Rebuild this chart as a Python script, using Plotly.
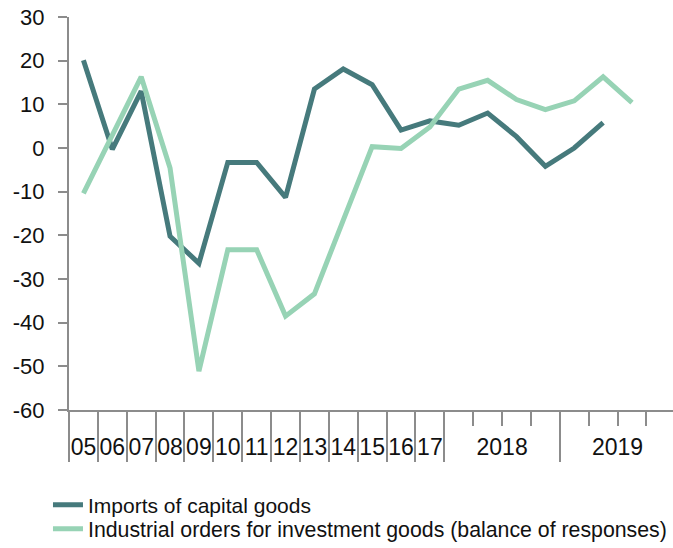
import plotly.graph_objects as go

# ---- data ----
categories = ["05", "06", "07", "08", "09", "10", "11", "12", "13", "14", "15", "16", "17",
              "2018Q1", "2018Q2", "2018Q3", "2018Q4",
              "2019Q1", "2019Q2", "2019Q3", "2019Q4"]
imports_capital_goods = [20.1, -0.3, 13.0, -20.2, -26.4, -3.3, -3.3, -11.3, 13.5, 18.1,
                         14.5, 4.1, 6.2, 5.2, 8.0, 2.6, -4.2, 0.0, 5.8]
industrial_orders = [-10.4, 3.0, 16.3, -4.6, -51.1, -23.3, -23.3, -38.5, -33.4, -16.5,
                     0.3, -0.1, 4.8, 13.5, 15.5, 11.1, 8.8, 10.8, 16.3, 10.4]
label_positions = [0, 1, 2, 3, 4, 5, 6, 7, 8, 9, 10, 11, 12, 14.5, 18.5]
label_texts = ["05", "06", "07", "08", "09", "10", "11", "12", "13", "14", "15", "16", "17",
               "2018", "2019"]
all_boundaries = [k - 0.5 for k in range(0, 22)]
group_boundaries = [k - 0.5 for k in list(range(0, 14)) + [17, 21]]
y_ticks = [30, 20, 10, 0, -10, -20, -30, -40, -50, -60]
y_tick_labels = ["30", "20", "10", "0", "-10", "-20", "-30", "-40", "-50", "-60"]

FONT = "Liberation Sans, Arial, sans-serif"
DARK = "#467A7C"
LIGHT = "#97D3B5"
AXIS = "#8C8C8C"
TXT = "#111111"

x_idx = list(range(len(categories)))

fig = go.Figure()
fig.add_trace(go.Scatter(
    x=x_idx[:len(imports_capital_goods)], y=imports_capital_goods,
    mode="lines", name="Imports of capital goods", legend="legend",
    line=dict(color=DARK, width=5)))
fig.add_trace(go.Scatter(
    x=x_idx[:len(industrial_orders)], y=industrial_orders,
    mode="lines", name="Industrial orders for investment goods (balance of responses)",
    legend="legend2",
    line=dict(color=LIGHT, width=5)))
# empty helper traces so the tick-only overlay axes get drawn
for ax in ("x2", "x3"):
    fig.add_trace(go.Scatter(x=[None], y=[None], xaxis=ax, yaxis="y",
                             showlegend=False, hoverinfo="skip", mode="lines"))

XR = [-0.5, 20.42]
LEG_X = -0.0348
fig.update_layout(
    width=673, height=548,
    margin=dict(l=69, r=0, t=17, b=138, autoexpand=False),
    paper_bgcolor="white", plot_bgcolor="white",
    font=dict(family=FONT, size=21, color=TXT),
    showlegend=True,
    legend=dict(
        x=LEG_X, xanchor="left", y=-0.2417, yanchor="middle",
        font=dict(family=FONT, size=21, color=TXT), bgcolor="rgba(0,0,0,0)",
    ),
    legend2=dict(
        x=LEG_X, xanchor="left", y=-0.3028, yanchor="middle",
        font=dict(family=FONT, size=21.3, color=TXT), bgcolor="rgba(0,0,0,0)",
    ),
    xaxis=dict(
        range=XR, showgrid=False, zeroline=False,
        showline=True, linecolor=AXIS, linewidth=2,
        tickmode="array", tickvals=label_positions, ticktext=label_texts,
        ticks="", ticklabelstandoff=15, ticklabeloverflow="allow",
        tickfont=dict(family=FONT, size=23, color=TXT),
    ),
    xaxis2=dict(
        range=XR, overlaying="x", anchor="y", side="bottom",
        showgrid=False, zeroline=False, showline=False,
        tickmode="array", tickvals=all_boundaries, showticklabels=False,
        ticks="outside", ticklen=15, tickwidth=2, tickcolor=AXIS,
    ),
    xaxis3=dict(
        range=XR, overlaying="x", anchor="y", side="bottom",
        showgrid=False, zeroline=False, showline=False,
        tickmode="array", tickvals=group_boundaries, showticklabels=False,
        ticks="outside", ticklen=51, tickwidth=2, tickcolor=AXIS,
    ),
    yaxis=dict(
        range=[-60, 30], showgrid=False, zeroline=False,
        showline=True, linecolor=AXIS, linewidth=2,
        tickmode="array", tickvals=y_ticks, ticktext=y_tick_labels,
        ticks="outside", ticklen=9, tickwidth=2, tickcolor=AXIS,
        ticklabelstandoff=9, ticklabeloverflow="allow",
        tickfont=dict(family=FONT, size=22, color=TXT),
    ),
)

fig.write_html("out.html",
               config={"displayModeBar": False},
               post_script="document.body.style.margin='0';document.body.style.overflow='hidden';")
